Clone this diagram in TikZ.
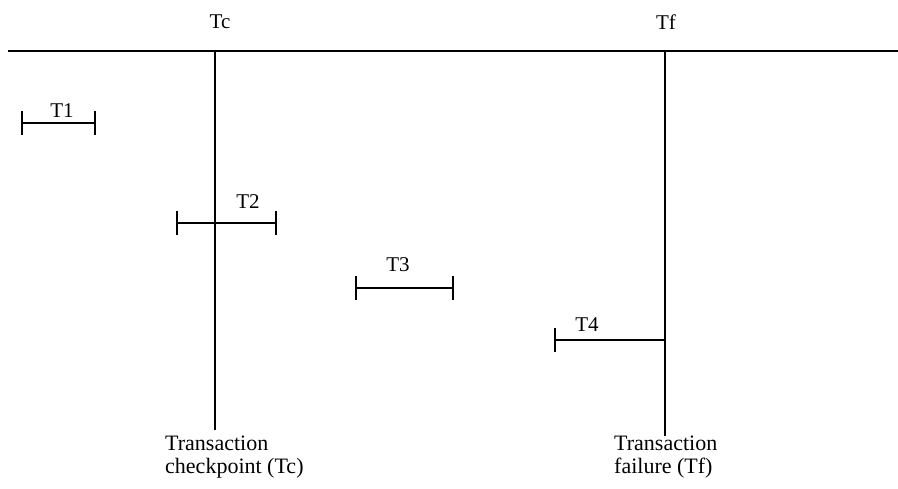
\documentclass[tikz,border=0pt]{standalone}
\usepackage{fontspec}
\setmainfont{Liberation Serif}
\begin{document}
\begin{tikzpicture}[x=1pt,y=-1pt,
  ln/.style={line width=1.8pt},
  lbl/.style={inner sep=0pt,font=\fontsize{21}{23}\selectfont},
  captext/.style={inner sep=0pt,align=left,anchor=north west,font=\fontsize{22}{22.5}\selectfont},
  tk/.style={line width=1.8pt}]
\useasboundingbox (0,0) rectangle (898,489);
% time axis
\coordinate (axL) at (8,51);
\coordinate (axR) at (898,51);
\draw[ln] (axL) -- (axR);
% checkpoint and failure lines
\coordinate (tcTop) at (215,51);
\coordinate (tcBot) at (215,430);
\coordinate (tfTop) at (665,51);
\coordinate (tfBot) at (665,436);
\draw[ln] (tcTop) -- (tcBot);
\draw[ln] (tfTop) -- (tfBot);
\node[lbl] (tc) at (220,22) {Tc};
\node[lbl] (tf) at (666,22) {Tf};
% transactions
\coordinate (t1a) at (22,123); \coordinate (t1b) at (95,123);
\draw[ln] (t1a) -- (t1b);
\draw[tk] ([yshift=-12pt]t1a) -- ([yshift=12pt]t1a);
\draw[tk] ([yshift=-12pt]t1b) -- ([yshift=12pt]t1b);
\node[lbl] (T1) at (62,111) {T1};

\coordinate (t2a) at (177,223); \coordinate (t2b) at (276,223);
\draw[ln] (t2a) -- (t2b);
\draw[tk] ([yshift=-12pt]t2a) -- ([yshift=12pt]t2a);
\draw[tk] ([yshift=-12pt]t2b) -- ([yshift=12pt]t2b);
\node[lbl] (T2) at (248,202) {T2};

\coordinate (t3a) at (356,288); \coordinate (t3b) at (453,288);
\draw[ln] (t3a) -- (t3b);
\draw[tk] ([yshift=-12pt]t3a) -- ([yshift=12pt]t3a);
\draw[tk] ([yshift=-12pt]t3b) -- ([yshift=12pt]t3b);
\node[lbl] (T3) at (398,265) {T3};

\coordinate (t4a) at (555,340); \coordinate (t4b) at (665,340);
\draw[ln] (t4a) -- (t4b);
\draw[tk] ([yshift=-12pt]t4a) -- ([yshift=12pt]t4a);
\node[lbl] (T4) at (587,325) {T4};
% captions
\node[captext] (capc) at (165,436) {Transaction\\checkpoint (Tc)};
\node[captext] (capf) at (614,436) {Transaction\\failure (Tf)};
\end{tikzpicture}
\end{document}
